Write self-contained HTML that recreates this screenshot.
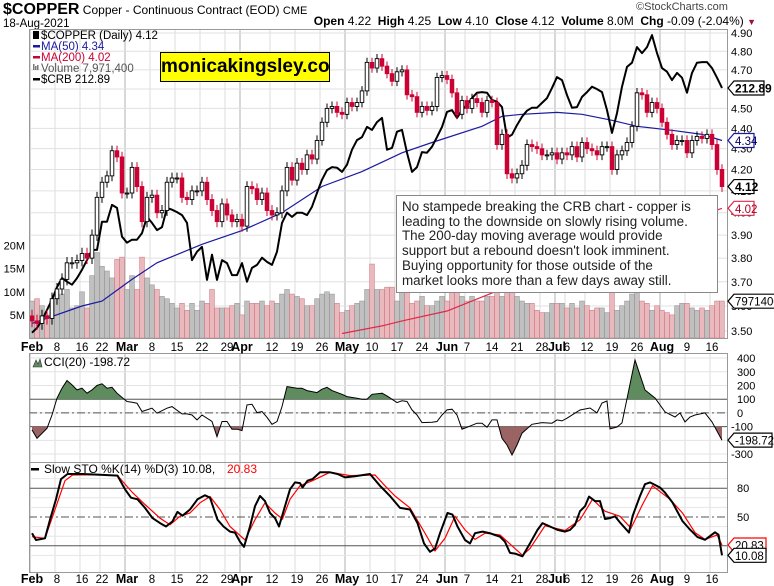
<!DOCTYPE html>
<html><head><meta charset="utf-8"><title>$COPPER chart</title>
<style>
html,body{margin:0;padding:0;background:#fff;}
body{width:774px;height:586px;position:relative;overflow:hidden;font-family:"Liberation Sans",Arial,sans-serif;}
#c{position:absolute;left:0;top:0;}
.abs{position:absolute;white-space:nowrap;}
</style></head>
<body>
<div class="abs" style="left:3px;top:2px;font-size:12px;color:#000;line-height:15px;"><b style="font-size:16px;">$COPPER</b> Copper - Continuous Contract (EOD) <span style="font-size:11px">CME</span></div>
<div class="abs" style="left:3px;top:18px;font-size:11.5px;line-height:12px;">18-Aug-2021</div>
<div class="abs" style="left:636px;top:1px;font-size:11px;color:#444;">©StockCharts.com</div>
<div class="abs" style="right:18px;top:14px;font-size:12px;"><b>Open</b> 4.22 &nbsp;<b>High</b> 4.25 &nbsp;<b>Low</b> 4.10 &nbsp;<b>Close</b> 4.12 &nbsp;<b>Volume</b> 8.0M &nbsp;<b>Chg</b> -0.09 (-2.04%) <span style="color:#a01030;font-size:9px">▼</span></div>
<svg id="c" width="774" height="586" xmlns="http://www.w3.org/2000/svg"></svg>
<div class="abs" style="left:160px;top:52px;width:168px;height:28px;background:#ffff00;border:1px solid #000;font-weight:bold;font-size:19px;line-height:28px;text-align:center;">monicakingsley.co</div>
<div class="abs" style="left:396px;top:195px;width:315px;height:92px;padding:4px 0 0 5px;background:#fff;border:1px solid #888;font-size:13.4px;line-height:14.7px;color:#222;">No stampede breaking the CRB chart - copper is<br>leading to the downside on slowly rising volume.<br>The 200-day moving average would provide<br>support but a rebound doesn't look imminent.<br>Buying opportunity for those outside of the<br>market looks more than a few days away still.</div>
<script>
// ---------- data ----------
const closes=[3.54,3.53,3.56,3.55,3.63,3.67,3.71,3.78,3.78,3.79,
3.82,3.80,3.90,4.07,4.14,4.17,4.29,4.26,4.09,4.09,
4.21,4.12,3.96,4.07,4.08,4.00,4.01,4.14,4.16,4.16,
4.07,4.06,4.10,4.10,4.14,4.06,4.01,3.96,4.04,3.99,
3.96,3.97,3.94,4.12,4.11,4.06,4.09,4.01,3.99,4.00,
4.10,4.21,4.15,4.23,4.20,4.27,4.25,4.34,4.43,4.50,
4.51,4.48,4.47,4.53,4.51,4.53,4.59,4.74,4.71,4.76,
4.72,4.68,4.64,4.69,4.70,4.57,4.56,4.48,4.51,4.49,
4.51,4.66,4.67,4.65,4.58,4.47,4.54,4.50,4.55,4.53,
4.48,4.54,4.53,4.32,4.37,4.18,4.16,4.18,4.22,4.32,
4.31,4.30,4.27,4.27,4.28,4.25,4.28,4.27,4.31,4.26,
4.33,4.30,4.29,4.27,4.31,4.31,4.20,4.27,4.29,4.33,
4.41,4.58,4.57,4.48,4.53,4.50,4.43,4.37,4.32,4.34,
4.34,4.28,4.34,4.36,4.35,4.37,4.32,4.20,4.12];
const volumes=[8,8.5,7,5,8,8.5,9.5,10.5,6.5,7,
10,6.5,13.5,18.5,15.5,14.5,13,17,17.5,10.5,
13.5,10.5,17.5,13,11.5,10.5,9,8.5,7.5,6.5,
7.5,6,7.5,6,8,7.5,10.5,6.5,6.5,6.5,
7,7.5,5,8,7.5,7.5,8,7,8,7.5,
9.5,10.5,9.5,9,8.5,7,7,8.5,9.5,10,
9.5,7.5,5.5,6,7,7.5,8,10.5,16,10.5,
10.5,11,11,8,11,11,7.5,8,9,7,
7,8,9,8,10,12,9,8,9,8,
8,9,9,12,9,12,10,9,8,7.5,
7.5,6,5.5,5.5,7.5,7.5,7.5,6.5,7.5,6.5,
8,7,6,6.5,6.5,5.5,10,6,7,8,
9.5,10,8,7.5,6,7,6,5.5,5,7,
7.5,7.5,6.5,6,6.5,6,7,8,8];
const crb=[172.1,172.9,174.2,175.9,177.6,179.7,181.2,180.6,180.1,181.2,
182.6,184.2,185.9,185.9,190.6,190.6,193.4,192.9,188.1,187.1,
187.6,187.6,188.7,191.4,190.4,189.2,189.7,192.9,192.6,192.2,
191.7,190.4,184.2,185.6,186.4,180.9,185.1,180.9,184.2,183.7,
181.7,181.7,183.7,180.6,182.9,183.4,184.6,183.9,183.4,185.6,
190.4,192.1,191.4,192.1,192.1,191.7,193.1,195.4,197.6,199.2,
199.7,199.6,198.9,200.1,202.6,204.2,204.7,206.4,205.9,207.2,
207.9,202.6,202.9,205.6,205.9,202.1,198.9,199.7,202.2,202.1,
203.1,204.7,206.4,208.9,209.2,207.9,209.2,210.1,211.2,212.1,
212.2,212.1,210.9,210.6,209.7,204.6,205.1,206.7,208.1,209.1,
209.6,209.6,210.4,211.2,212.9,214.7,214.2,211.7,209.6,209.7,
211.4,212.2,213.1,212.7,212.2,209.2,205.4,208.7,213.1,216.4,
217.1,219.7,218.7,219.7,221.7,218.7,216.2,215.6,214.2,215.4,
214.6,212.1,215.4,217.1,217.2,217.2,216.2,214.6,212.9];
const ma50Idx=[0,10,14,20,25,34,42,50,58,66,74,80,90,94,98,105,110,116,121,128,134,138];
const ma50Val=[3.53,3.60,3.62,3.71,3.78,3.86,3.92,4.00,4.12,4.19,4.28,4.33,4.41,4.46,4.47,4.48,4.47,4.44,4.41,4.39,4.37,4.34];
const ma200Idx=[62,70,74,83,100,120,138];
const ma200Val=[3.49,3.52,3.54,3.58,3.72,3.88,4.02];
const cciIdx=[0,1,3,4,5,6,7,8,9,10,11,12,13,14,15,16,17,19,20,21,22,24,25,27,28,30,31,32,33,34,36,37,38,39,40,41,42,43,44,45,46,47,48,49,50,51,53,54,55,57,58,59,60,62,63,65,66,67,68,70,71,73,74,75,76,77,78,80,81,82,83,84,85,86,87,89,90,91,92,93,94,95,96,97,98,100,102,104,105,106,107,109.6,111.6,113,114,115,115.6,117,118,120.6,122.6,124.6,125.6,126.6,128.6,129.6,130.6,131.6,132.6,134.6,136,138];
const cciVal=[-124,-185,-112,-15,107,180,236,204,168,180,144,168,200,212,180,187,144,83,78,71,10,34,-2,34,46,-7,-7,-15,-51,-15,-63,-173,-63,-63,-119,-119,-129,58,63,2,10,-32,-83,-63,46,192,180,180,163,148,173,187,163,136,119,107,100,100,136,144,124,75,88,83,22,-15,-71,-68,-63,-15,22,27,-15,-119,-105,-75,-75,-105,-51,-51,-185,-234,-307,-234,-148,-83,-71,-75,-51,-58,-39,21,36,0,72,87,-117,-103,-73,386,167,109,58,7,-30,0,-66,-30,-15,0,-66,-199];
const stoKIdx=[0,0.8,2.6,3.6,4.8,5.8,7.1,10.1,13.6,17.1,18.6,19.8,21.1,22.6,24.1,25.6,26.8,28.1,29.1,30.1,31.6,33.1,34.6,35.6,37.1,38.3,39.6,40.6,41.6,42.4,43.6,44.6,45.6,46.6,47.6,48.6,49.4,50.6,51.6,52.6,53.6,54.1,55.1,56.1,57.6,59.6,61.1,62.6,64.6,67.6,69.6,71.6,73.6,75.6,77.1,78.4,79.6,80.6,81.6,83.1,84.1,85.1,86.6,87.6,88.6,90.1,91.6,92.6,93.6,94.6,95.6,96.6,98.1,99.6,101.1,102.1,103.6,105.1,106.6,107.6,108.6,109.6,110.6,111.4,112.6,113.6,114.6,115.6,116.6,117.6,119.4,120.1,121.6,122.6,123.6,125.6,126.6,128.1,130.1,131.6,133.1,134.6,136.6,137.3,138];
const stoKVal=[33.1,26.0,27.8,47.2,68.4,89.5,94.8,94.8,94.1,93.1,78.9,70.1,68.4,59.5,48.9,43.6,40.1,45.4,55.3,51.4,57.8,68.4,72.6,70.1,47.2,40.1,34.8,33.8,24.2,18.9,40.1,61.3,71.9,66.6,54.2,48.9,40.1,61.3,78.9,86.0,85.3,80.7,87.8,89.5,96.6,96.6,94.8,91.3,92.4,94.8,82.5,71.9,59.5,57.8,43.6,22.5,13.7,17.2,33.1,54.2,52.5,40.1,26.0,22.5,33.1,34.8,33.1,31.3,29.5,24.2,12.6,11.9,9.1,22.5,36.6,43.6,40.1,36.6,34.8,36.6,41.9,56.0,61.3,71.2,66.6,66.6,47.9,48.9,50.7,44.3,33.8,50.7,71.9,84.2,86.0,80.7,75.4,65.1,45.7,36.9,29.1,26.3,34.1,31.6,10.1];
const stoDIdx=[0,2.6,4.6,6.6,8.1,13.6,17.1,20.1,22.6,25.6,27.6,29.6,31.6,33.6,35.6,37.6,39.6,42.6,44.6,46.6,48.6,50.1,51.6,53.6,56.1,59.6,63.6,68.6,70.6,72.6,75.6,78.6,80.6,82.6,84.6,86.6,88.6,90.6,93.6,98.1,99.6,102.6,106.6,109.6,112.1,114.6,117.6,119.8,122.1,124.1,127.6,130.1,132.6,134.6,137.0,138];
const stoDVal=[29.5,27.8,57.8,87.8,93.8,94.1,93.1,75.4,63.0,48.9,41.9,50.7,54.2,64.8,71.2,57.8,40.1,26.0,47.2,64.8,54.2,47.9,68.4,82.5,87.8,96.6,93.1,93.8,82.5,71.9,59.5,33.1,14.7,27.8,50.7,36.6,26.7,33.1,31.3,10.1,17.2,40.8,35.9,47.2,68.4,56.0,50.7,38.3,63.0,82.5,68.4,54.2,33.8,26.7,31.3,20.8];
const priceTicks=[4.9,4.8,4.7,4.6,4.5,4.4,4.3,4.2,4.1,4.0,3.9,3.8,3.7,3.6,3.5];
const volTicks=[5,10,15,20];
const cciTicks=[400,300,200,100,0,-100,-200,-300];
const stoTicks=[80,50,20];
const holidays=['2021-02-15','2021-04-02','2021-05-31','2021-07-05'];

// ---------- scales ----------
const X0=29,X1=727,MT=29,MB=338,CT=353,CB=462,ST=462,SB=572;
const xOf=i=>32+i*5;
const yP=p=>33+885.6*Math.log(4.90/p);
const yV=v=>338-v*4.62;
const yC=v=>412.9-v*0.1371;
const yS=v=>565-v*0.96;
const yR=v=>88-(v-212.89)*6;

const NS='http://www.w3.org/2000/svg';
const svg=document.getElementById('c');
function mk(tag,attrs,parent){const e=document.createElementNS(NS,tag);for(const k in attrs)e.setAttribute(k,attrs[k]);(parent||svg).appendChild(e);return e;}
function txt(x,y,s,attrs){const t=mk('text',Object.assign({x:x,y:y,'font-size':11,'font-family':'Liberation Sans, Arial, sans-serif',fill:'#000'},attrs||{}));t.textContent=s;return t;}

// dates
const dates=[];
{let d=new Date(Date.UTC(2021,1,1));const end=Date.UTC(2021,7,18);
 while(d.getTime()<=end){const w=d.getUTCDay();const iso=d.toISOString().slice(0,10);
  if(w>0&&w<6&&holidays.indexOf(iso)<0)dates.push(new Date(d.getTime()));
  d.setUTCDate(d.getUTCDate()+1);}}
const months=['Jan','Feb','Mar','Apr','May','Jun','Jul','Aug','Sep'];
const ticks=[];let lastMonth=-1;
for(let i=0;i<dates.length;i++){
 const m=dates[i].getUTCMonth();
 if(i===0||m!==dates[i-1].getUTCMonth()){ticks.push({i:i,label:months[m],month:true});lastMonth=i;}
 else if(dates[i].getUTCDay()<dates[i-1].getUTCDay()&&i-lastMonth>1){ticks.push({i:i,label:String(dates[i].getUTCDate()),month:false});}
}

// ---------- panel backgrounds & grids ----------
[[MT,MB],[CT,CB],[ST,SB]].forEach((p,k)=>{
 const r=mk('rect',{x:X0,y:p[0],width:X1-X0,height:p[1]-p[0],fill:'#fff'});
 
 
 ticks.forEach(t=>{
  const l=mk('line',{x1:xOf(t.i)-2,x2:xOf(t.i)-2,y1:p[0],y2:p[1],stroke:t.month?'#b0b0b0':'#dedede','stroke-width':1});
  
  
 });
});
priceTicks.forEach(p=>{
 const l=mk('line',{x1:X0,x2:X1,y1:yP(p),y2:yP(p),stroke:'#e0e0e0'});
 
 
 const t=txt(731,yP(p)+4,p.toFixed(2));
 
 
});
volTicks.forEach(v=>{
 const t=txt(25,yV(v)+4,v+'M',{'text-anchor':'end'});
 
 
});
cciTicks.forEach(v=>{
 const l=mk('line',{x1:X0,x2:X1,y1:yC(v),y2:yC(v),stroke:'#e3e3e3'});
 
 
 if(v!==-200){const t=txt(v<0?731:737,yC(v)+4,String(v));
 
 }
});
[10,30,40,60,70,90].forEach(v=>{
 const l=mk('line',{x1:X0,x2:X1,y1:yS(v),y2:yS(v),stroke:'#e6e6e6'});
 
 
});
stoTicks.forEach(v=>{
 if(v!==20){const t=txt(737,yS(v)+4,String(v));
 
 }
});
// reference lines
[[yC(100),''],[yC(-100),''],[yC(0),'8,3,2,3'],[yS(80),''],[yS(20),''],[yS(50),'8,3,2,3']].forEach(a=>{
 const l=mk('line',{x1:X0,x2:X1,y1:a[0],y2:a[0],stroke:'#555','stroke-width':1,'stroke-dasharray':a[1]||'none'});
 
 
});

// ---------- volume ----------
volumes.forEach((v,i)=>{
 const down=i>0&&closes[i]<closes[i-1];
 const r=mk('rect',{x:xOf(i)-2.4,y:yV(v),width:4.8,height:338-yV(v),fill:down?'#e9b9bd':'#c0c0c0',stroke:down?'#d08088':'#999','stroke-width':0.6});
 
 
});

// ---------- moving averages & CRB ----------
function poly(idx,val,fx,fy,attrs,name){
 const pts=idx.map((k,j)=>fx(k).toFixed(1)+','+fy(val[j]).toFixed(1)).join(' ');
 const p=mk('polyline',Object.assign({points:pts,fill:'none'},attrs));
 
 
 return p;
}
poly(ma200Idx,ma200Val,xOf,yP,{stroke:'#e0284a','stroke-width':1.2},'ma200-line');
poly(ma50Idx,ma50Val,xOf,yP,{stroke:'#1a1aa0','stroke-width':1.2},'ma50-line');
poly(crb.map((v,i)=>i),crb,xOf,yR,{stroke:'#000','stroke-width':2,'stroke-linejoin':'round'},'crb-line');

// ---------- candles ----------
closes.forEach((c,i)=>{
 const o=i>0?closes[i-1]:3.56;
 const up=c>=o;
 const hi=Math.max(o,c)+0.025, lo=Math.min(o,c)-0.025;
 const col=up?'#000':'#cc0033';
 const w=mk('line',{x1:xOf(i),x2:xOf(i),y1:yP(hi),y2:yP(lo),stroke:col,'stroke-width':1});
 
 
 const top=yP(Math.max(o,c)),bot=yP(Math.min(o,c));
 const b=mk('rect',{x:xOf(i)-1.8,y:top,width:3.6,height:Math.max(1,bot-top),fill:up?'#fff':'#cc0033',stroke:col,'stroke-width':0.9});
 
 
});

// ---------- CCI ----------
{
 const pts=cciIdx.map((k,j)=>[xOf(k),yC(cciVal[j])]);
 const defs=mk('defs',{});
 const c1=mk('clipPath',{id:'above'},defs);mk('rect',{x:X0,y:CT,width:X1-X0,height:yC(100)-CT},c1);
 const c2=mk('clipPath',{id:'below'},defs);mk('rect',{x:X0,y:yC(-100),width:X1-X0,height:CB-yC(-100)},c2);
 const s=pts.map(p=>p[0].toFixed(1)+','+p[1].toFixed(1)).join(' ');
 const x0=pts[0][0],xn=pts[pts.length-1][0];
 const a=mk('polygon',{points:x0+','+yC(100)+' '+s+' '+xn+','+yC(100),fill:'#5f8c5f',stroke:'none','clip-path':'url(#above)'});
 
 
 const b=mk('polygon',{points:x0+','+yC(-100)+' '+s+' '+xn+','+yC(-100),fill:'#9a6464',stroke:'none','clip-path':'url(#below)'});
 
 
 poly(cciIdx,cciVal,xOf,yC,{stroke:'#000','stroke-width':1},'cci-line');
}
// ---------- Slow STO ----------
poly(stoDIdx,stoDVal,xOf,yS,{stroke:'#ff0000','stroke-width':1.2},'sto-d-line');
poly(stoKIdx,stoKVal,xOf,yS,{stroke:'#000','stroke-width':2,'stroke-linejoin':'round'},'sto-k-line');

// ---------- frames ----------
[[MT,MB,'price-panel-frame'],[CT,CB,'cci-panel-frame'],[ST,SB,'sto-panel-frame']].forEach(p=>{
 const r=mk('rect',{x:X0+0.5,y:p[0]+0.5,width:X1-X0,height:p[1]-p[0],fill:'none',stroke:'#999'});
 
 
});
// ---------- date axes ----------
[351,583].forEach(yy=>{
 ticks.forEach(t=>{
  const e=txt(xOf(t.i),yy,t.label,{'text-anchor':'middle','font-weight':t.month?'bold':'normal','font-size':t.month?12.5:11.5});
  
  
 });
});

// ---------- value tags ----------
function tag(y,s,color,right,bold,textColor){
 const pg=mk('polygon',{points:`728,${y} 734,${y-7} ${right},${y-7} ${right},${y+7} 734,${y+7}`,fill:'#fff',stroke:color,'stroke-width':1.2});
 
 
 const t=txt(735,y+4.5,s,{'font-weight':bold?'bold':'normal','font-size':bold?12:11.5,fill:textColor||'#000'});
 
 
}
tag(yR(212.89),'212.89','#000',764,true);
tag(yP(4.34),'4.34','#1a1aa0',754,false,'#000060');
tag(yP(4.12),'4.12','#000',754,true);
tag(yP(4.02),'4.02','#e0284a',754,false,'#b00020');
tag(yV(7.9714),'7971400','#000',776,false);
tag(yC(-198.72),'-198.72','#000',772,false);
tag(yS(20.83),'20.83','#ff0000',766,false);
tag(yS(10.08),'10.08','#000',766,false);

// ---------- legends ----------
const lg=[['$COPPER (Daily) 4.12','#000',35],['MA(50) 4.34','#1a1aa0',46],['MA(200) 4.02','#cc0033',57],['Volume 7,971,400','#555',68],['$CRB 212.89','#000',79]];
lg.forEach((l,k)=>{
 if(k>0&&k!==3){const d=mk('rect',{x:33,y:l[2]-1,width:7,height:2.5,fill:l[1]});
 
 }
 if(k===3){[0,2,4].forEach(o=>{const d=mk('rect',{x:33+o,y:l[2]-4+o%3,width:1.5,height:6-o%3,fill:'#777'});
 
 });}
 const t=txt(41,l[2]+4,l[0],{'font-size':11.5,fill:l[1]});
 
 
});
{const i0=mk('rect',{x:33,y:31,width:6,height:8,fill:'#000'});
 
 }
{const m=mk('polygon',{points:'33,367 36,360 38,364 40,359 42,367',fill:'#5f8c5f',stroke:'#333','stroke-width':0.6});
 
 
 const t=txt(44,366,'CCI(20) -198.72',{'font-size':12});
 
 }
{const d=mk('rect',{x:31,y:468,width:8,height:2.5,fill:'#000'});
 
 
 const t=txt(44,473,'Slow STO %K(14) %D(3) 10.08, ',{'font-size':12});
 
 
 const t2=txt(227,473,'20.83',{'font-size':12,fill:'#ff0000'});
 
 }
</script>
</body></html>
